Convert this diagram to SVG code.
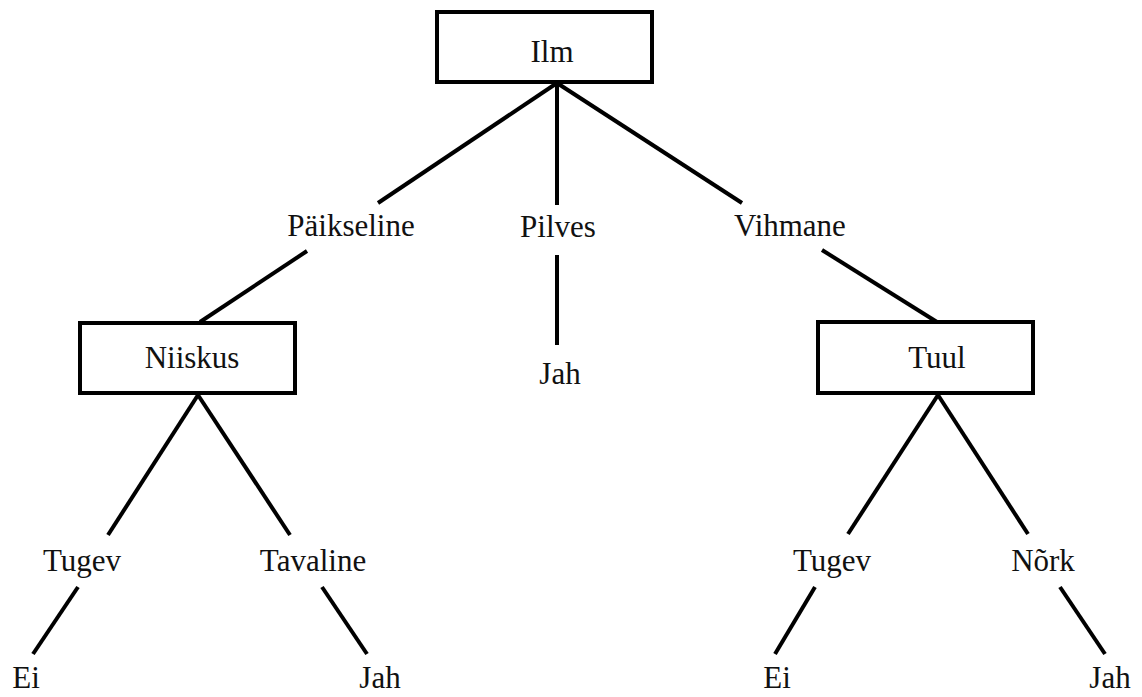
<svg xmlns="http://www.w3.org/2000/svg" width="1142" height="697" viewBox="0 0 1142 697">
  <style>
    .box { fill: #ffffff; stroke: #000000; stroke-width: 4; }
    .edge { stroke: #000000; stroke-width: 4; fill: none; }
    .lbl { font-family: "Liberation Serif", "Times New Roman", serif; font-size: 31px; fill: #111111; text-anchor: middle; }
  </style>
  <rect width="1142" height="697" fill="#ffffff"/>

  <!-- connectors -->
  <g id="connectors">
    <line class="edge" x1="557" y1="83" x2="378" y2="203"/>
    <line class="edge" x1="557" y1="83" x2="557" y2="205"/>
    <line class="edge" x1="557" y1="83" x2="742" y2="203"/>
    <line class="edge" x1="307" y1="251" x2="200" y2="322"/>
    <line class="edge" x1="557" y1="255" x2="557" y2="345"/>
    <line class="edge" x1="822" y1="250" x2="937" y2="322"/>
    <line class="edge" x1="198" y1="395" x2="108" y2="535"/>
    <line class="edge" x1="198" y1="395" x2="290" y2="535"/>
    <line class="edge" x1="78" y1="587" x2="33" y2="654"/>
    <line class="edge" x1="322" y1="587" x2="367" y2="654"/>
    <line class="edge" x1="938" y1="395" x2="848" y2="534"/>
    <line class="edge" x1="938" y1="395" x2="1028" y2="534"/>
    <line class="edge" x1="815" y1="587" x2="775" y2="654"/>
    <line class="edge" x1="1060" y1="587" x2="1105" y2="654"/>
  </g>

  <!-- decision nodes -->
  <g id="node-ilm">
    <rect class="box" x="437" y="12" width="215" height="70"/>
    <text class="lbl" x="552" y="62">Ilm</text>
  </g>
  <g id="node-niiskus">
    <rect class="box" x="80" y="323" width="215" height="70"/>
    <text class="lbl" x="192" y="368">Niiskus</text>
  </g>
  <g id="node-tuul">
    <rect class="box" x="818" y="322" width="215" height="71"/>
    <text class="lbl" x="937" y="368">Tuul</text>
  </g>

  <!-- branch values -->
  <g id="branch-paikseline"><text class="lbl" x="351" y="236">Päikseline</text></g>
  <g id="branch-pilves"><text class="lbl" x="558" y="237">Pilves</text></g>
  <g id="branch-vihmane"><text class="lbl" x="790" y="236">Vihmane</text></g>
  <g id="branch-tugev-1"><text class="lbl" x="82" y="571">Tugev</text></g>
  <g id="branch-tavaline"><text class="lbl" x="313" y="571">Tavaline</text></g>
  <g id="branch-tugev-2"><text class="lbl" x="832" y="571">Tugev</text></g>
  <g id="branch-nork"><text class="lbl" x="1043" y="571">Nõrk</text></g>

  <!-- leaves -->
  <g id="leaf-pilves-jah"><text class="lbl" x="560" y="384">Jah</text></g>
  <g id="leaf-ei-1"><text class="lbl" x="26" y="688">Ei</text></g>
  <g id="leaf-jah-1"><text class="lbl" x="380" y="688">Jah</text></g>
  <g id="leaf-ei-2"><text class="lbl" x="777" y="688">Ei</text></g>
  <g id="leaf-jah-2"><text class="lbl" x="1110" y="688">Jah</text></g>
</svg>
